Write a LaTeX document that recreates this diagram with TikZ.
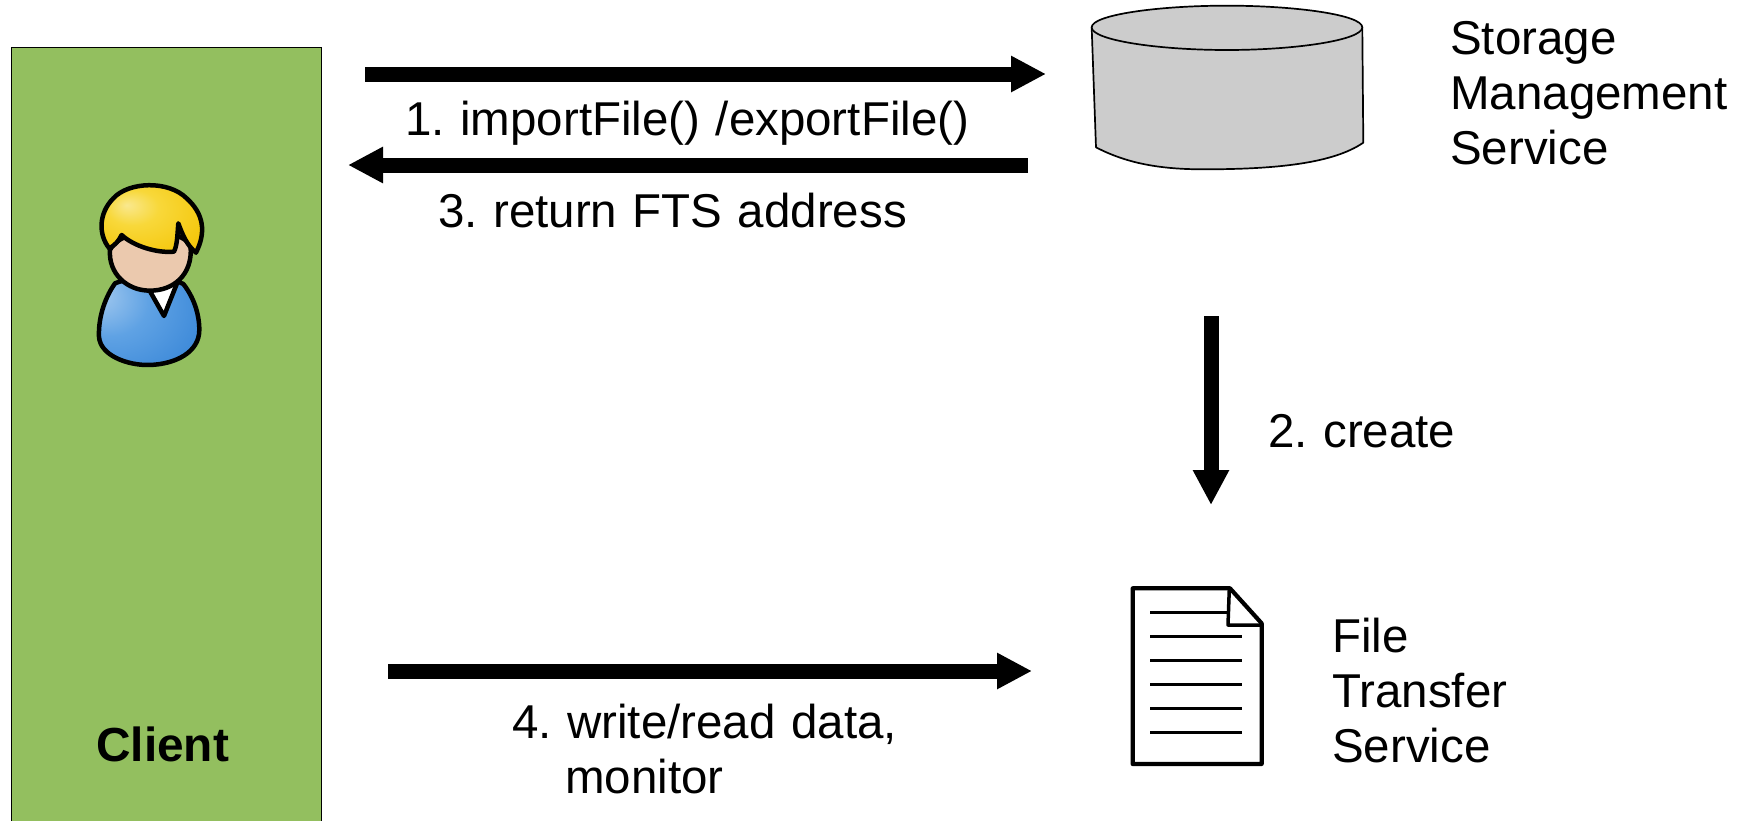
\documentclass[tikz,border=0pt]{standalone}
\usepackage{fontspec}
\setmainfont[WordSpace=1.17]{Liberation Sans}
\usetikzlibrary{arrows.meta}
\definecolor{clientgreen}{HTML}{93BF5F}
\definecolor{cylgray}{HTML}{CCCCCC}
\definecolor{skin}{HTML}{EBC9AE}
\definecolor{haira}{HTML}{F9E88E}
\definecolor{hairb}{HTML}{F8D83A}
\definecolor{hairc}{HTML}{F5C80F}
\definecolor{haird}{HTML}{E4A800}
\definecolor{bodya}{HTML}{A9CDF0}
\definecolor{bodyb}{HTML}{5FA2E4}
\definecolor{bodyc}{HTML}{3B88D8}
\definecolor{bodyd}{HTML}{2570C0}
\pgfdeclareradialshading{hairshade}{\pgfpoint{-12bp}{8bp}}{color(0bp)=(haira);color(12bp)=(hairb);color(30bp)=(hairc);color(50bp)=(haird)}
\pgfdeclareradialshading{bodyshade}{\pgfpoint{-28bp}{16bp}}{color(0bp)=(bodya);color(20bp)=(bodyb);color(42bp)=(bodyc);color(70bp)=(bodyd)}
\tikzset{
  lbl/.style={font=\fontsize{47.5}{55}\selectfont\frenchspacing, anchor=base west, inner sep=0pt, align=left},
  flow/.style={line width=15pt, -{Triangle[length=35pt,width=34pt]}},
  outline/.style={draw=black, line join=round, line cap=round, line width=4.5pt},
}
\begin{document}
\begin{tikzpicture}[x=1pt,y=-1pt]
\useasboundingbox (0,0) rectangle (1749,820);
\fill[white] (0,0) rectangle (1749,820);
% client panel
\begin{scope}
\clip (0,0) rectangle (1749,820);
\node[draw=black, line width=1.2pt, fill=clientgreen, minimum width=310pt, minimum height=800pt, inner sep=0pt, anchor=north west] (client) at (11,47) {};
\end{scope}
\node[lbl, font=\fontsize{47.8}{55}\selectfont\bfseries] (clientlabel) at (96,761) {Client};
% person
\begin{scope}[shift={(70,160)}, x=0.3333pt, y=-0.3333pt]
 \path[outline, shading=bodyshade]
   (135,370) .. controls (100,420) and (85,480) .. (87,530)
   .. controls (90,585) and (170,617) .. (240,615)
   .. controls (320,612) and (388,575) .. (388,510)
   .. controls (388,460) and (370,410) .. (340,372)
   .. controls (300,350) and (180,350) .. (135,370) -- cycle;
 \path[outline, fill=white]
   (235,385) -- (282,468) -- (325,360) -- cycle;
 \path[outline, fill=skin]
   (120,270) .. controls (115,340) and (170,392) .. (240,392)
   .. controls (310,392) and (368,345) .. (362,260)
   .. controls (340,200) and (150,200) .. (120,270) -- cycle;
 \path[outline, shading=hairshade]
   (118,265) .. controls (85,225) and (85,160) .. (130,115)
   .. controls (175,65) and (295,60) .. (350,115)
   .. controls (400,160) and (410,215) .. (378,278)
   .. controls (350,255) and (338,225) .. (325,190)
   .. controls (322,225) and (322,255) .. (312,275)
   .. controls (260,280) and (190,258) .. (155,225)
   .. controls (145,245) and (135,255) .. (118,265) -- cycle;
\end{scope}
% storage cylinder
\begin{scope}[shift={(1070,0)}, x=0.3333pt, y=-0.3333pt]
 \path[draw=black, line width=1.7pt, fill=cylgray, line join=round]
   (65,82) -- (78,442) .. controls (170,490) and (270,508) .. (400,508)
   .. controls (620,508) and (790,490) .. (880,428) -- (877,82) -- cycle;
 \path[draw=black, line width=1.7pt, fill=cylgray]
   (65,82) .. controls (65,45) and (260,17) .. (471,17)
   .. controls (680,17) and (877,45) .. (877,82)
   .. controls (877,120) and (680,150) .. (471,150)
   .. controls (260,150) and (65,120) .. (65,82) -- cycle;
\end{scope}
% document
\begin{scope}[shift={(1110,570)}, x=0.3333pt, y=-0.3333pt]
 \path[draw=black, line width=4.2pt, fill=white, line join=round]
   (68,55) -- (360,55) -- (455,160) -- (455,582) -- (68,582) -- cycle;
 \path[draw=black, line width=3.5pt, line join=round]
   (358,55) -- (354,165) -- (455,165);
 \draw[line width=2.6pt] (120,128) -- (350,128);
 \foreach \yy in {200,272,344,416,488}
   \draw[line width=2.6pt] (120,\yy) -- (396,\yy);
\end{scope}
% arrows
\coordinate (a1s) at (365,74);  \coordinate (a1e) at (1046,74);
\coordinate (a3s) at (1028,165); \coordinate (a3e) at (348,165);
\coordinate (a2s) at (1211,316); \coordinate (a2e) at (1211,505);
\coordinate (a4s) at (388,671); \coordinate (a4e) at (1032,671);
\draw[flow] (a1s) -- (a1e);
\draw[flow] (a3s) -- (a3e);
\draw[flow] (a2s) -- (a2e);
\draw[flow] (a4s) -- (a4e);
% labels
\node[lbl] (storage) at (1450,164) {Storage\\Management\\Service};
\node[lbl] (l1) at (405,135) {1. importFile() /exportFile()};
\node[lbl] (l3) at (438,227) {3. return FTS address};
\node[lbl] (l2) at (1268,447) {2. create};
\node[lbl] (fts) at (1332,762) {File\\Transfer\\Service};
\node[lbl] (l4) at (512,793) {4. write/read data,\\\hspace*{53pt}monitor};
\end{tikzpicture}
\end{document}
